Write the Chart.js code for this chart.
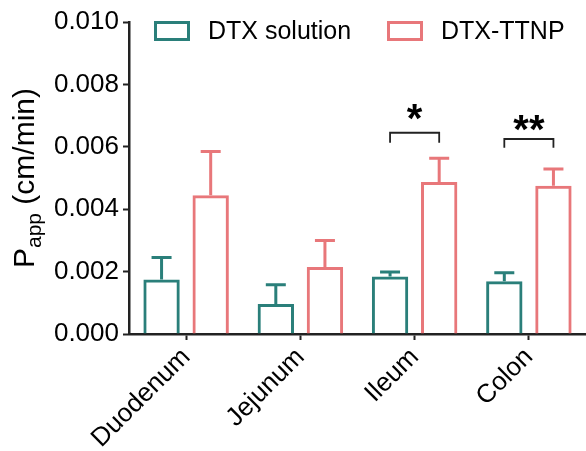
<!DOCTYPE html>
<html>
<head>
<meta charset="utf-8">
<script src="https://cdn.jsdelivr.net/npm/chart.js@4.4.1/dist/chart.umd.min.js"></script>
<style>
  html, body { margin: 0; padding: 0; background: #fff; }
  #wrap { width: 586px; height: 451px; }
</style>
</head>
<body>
<div id="wrap"><canvas id="papp"></canvas></div>
<script>
// data
const segments = ['Duodenum', 'Jejunum', 'Ileum', 'Colon'];
const solutionMean = [0.00175, 0.00096, 0.00184, 0.00169];
const solutionErr = [0.00070, 0.00062, 0.00015, 0.00027];
const ttnpMean = [0.00445, 0.00215, 0.00487, 0.00475];
const ttnpErr = [0.00140, 0.00085, 0.00076, 0.00054];
const yTicks = [0, 0.002, 0.004, 0.006, 0.008, 0.010];

// significance marks: category index, bracket level, leg end, label
const sigIndex = [2, 3];
const sigLevel = [0.00645, 0.00625];
const sigLeg = [0.00613, 0.00597];
const sigText = ['*', '**'];

const teal = '#2a7f7a';
const coral = '#e8777a';
const ink = '#222';
const font = 'Arial, "Liberation Sans", Helvetica, sans-serif';

const errorBars = {
    id: 'errorBars',
    afterDatasetsDraw(chart) {
        const ctx = chart.ctx;
        const y = chart.scales.y;
        const errs = [solutionErr, ttnpErr];
        chart.data.datasets.forEach((ds, di) => {
            const meta = chart.getDatasetMeta(di);
            meta.data.forEach((bar, i) => {
                const top = y.getPixelForValue(ds.data[i] + errs[di][i]);
                ctx.save();
                ctx.strokeStyle = ds.borderColor;
                ctx.lineWidth = 3;
                ctx.beginPath();
                ctx.moveTo(bar.x, bar.y);
                ctx.lineTo(bar.x, top);
                ctx.moveTo(bar.x - 10, top);
                ctx.lineTo(bar.x + 10, top);
                ctx.stroke();
                ctx.restore();
            });
        });
    }
};

const extras = {
    id: 'extras',
    afterDraw(chart) {
        const ctx = chart.ctx;
        const y = chart.scales.y;
        const area = chart.chartArea;
        const m0 = chart.getDatasetMeta(0);
        const m1 = chart.getDatasetMeta(1);

        // brackets + stars
        sigIndex.forEach((ci, k) => {
            const x1 = m0.data[ci].x, x2 = m1.data[ci].x;
            const yl = y.getPixelForValue(sigLevel[k]);
            const yb = y.getPixelForValue(sigLeg[k]);
            ctx.save();
            ctx.strokeStyle = ink;
            ctx.lineWidth = 1.8;
            ctx.beginPath();
            ctx.moveTo(x1, yb);
            ctx.lineTo(x1, yl);
            ctx.lineTo(x2, yl);
            ctx.lineTo(x2, yb);
            ctx.stroke();
            ctx.fillStyle = '#000';
            ctx.font = 'bold 40px ' + font;
            ctx.textAlign = 'center';
            ctx.textBaseline = 'alphabetic';
            ctx.fillText(sigText[k], (x1 + x2) / 2, yl + (k === 0 ? -1 : 4));
            ctx.restore();
        });

        // legend
        const items = [['DTX solution', teal, 154], ['DTX-TTNP', coral, 387]];
        ctx.save();
        items.forEach(([label, col, x]) => {
            ctx.strokeStyle = col;
            ctx.lineWidth = 3;
            ctx.strokeRect(x + 1.5, 22.5, 33, 17);
            ctx.fillStyle = '#000';
            ctx.font = '25px ' + font;
            ctx.textBaseline = 'middle';
            ctx.textAlign = 'left';
            ctx.fillText(label, x + 54, 32);
        });
        ctx.restore();

        // y axis title with subscript
        ctx.save();
        const cy = (area.top + area.bottom) / 2;
        ctx.translate(34, cy);
        ctx.rotate(-Math.PI / 2);
        ctx.fillStyle = '#000';
        ctx.textBaseline = 'alphabetic';
        ctx.textAlign = 'left';
        const big = '30px ' + font, small = '21px ' + font;
        ctx.font = big;
        const wP = ctx.measureText('P').width;
        const wRest = ctx.measureText(' (cm/min)').width;
        ctx.font = small;
        const wSub = ctx.measureText('app').width;
        let x0 = -(wP + wSub + wRest) / 2;
        ctx.font = big;
        ctx.fillText('P', x0, 0);
        ctx.font = small;
        ctx.fillText('app', x0 + wP, 7);
        ctx.font = big;
        ctx.fillText(' (cm/min)', x0 + wP + wSub, 0);
        ctx.restore();
    }
};

new Chart(document.getElementById('papp').getContext('2d'), {
    type: 'bar',
    data: {
        labels: segments,
        datasets: [
            {
                label: 'DTX solution',
                data: solutionMean,
                backgroundColor: 'rgba(255,255,255,0)',
                borderColor: teal,
                borderWidth: 3,
                barPercentage: 0.74,
                categoryPercentage: 0.86
            },
            {
                label: 'DTX-TTNP',
                data: ttnpMean,
                backgroundColor: 'rgba(255,255,255,0)',
                borderColor: coral,
                borderWidth: 3,
                barPercentage: 0.74,
                categoryPercentage: 0.86
            }
        ]
    },
    options: {
        responsive: true,
        maintainAspectRatio: false,
        animation: false,
        layout: { padding: { left: 0, top: 22, right: 0, bottom: 0 } },
        plugins: {
            legend: { display: false },
            tooltip: { enabled: false }
        },
        scales: {
            x: {
                afterFit(scale) {
                    scale.height = 117;
                    scale.paddingLeft = 0;
                    scale.paddingRight = 0;
                },
                grid: { offset: false, drawOnChartArea: false, drawTicks: true, tickLength: 6, tickWidth: 2, color: ink },
                border: { display: true, color: ink, width: 2.5 },
                ticks: { color: '#000', font: { size: 26, family: font }, maxRotation: 45, minRotation: 45, padding: 2 }
            },
            y: {
                min: 0,
                max: 0.010,
                afterBuildTicks(scale) { scale.ticks = yTicks.map(v => ({ value: v })); },
                afterFit(scale) {
                    scale.width = 129;
                    scale.paddingTop = 0;
                    scale.paddingBottom = 0;
                },
                grid: { drawOnChartArea: false, drawTicks: true, tickLength: 6, tickWidth: 2, color: ink },
                border: { display: true, color: ink, width: 2.5 },
                ticks: {
                    color: '#000',
                    font: { size: 26, family: font },
                    padding: 4,
                    callback: v => v.toFixed(3)
                }
            }
        }
    },
    plugins: [errorBars, extras]
});
</script>
</body>
</html>
